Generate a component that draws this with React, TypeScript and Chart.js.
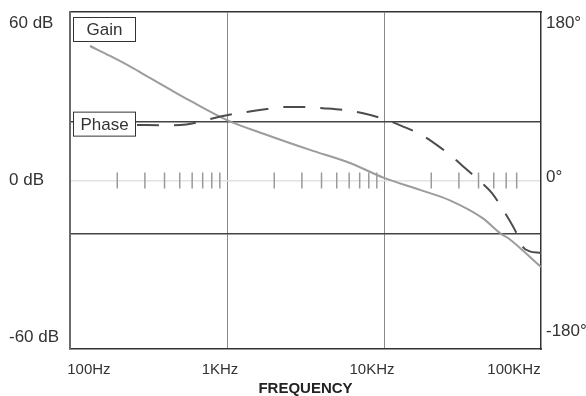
import React, { useEffect, useRef } from "react";
import { Chart, registerables } from "chart.js";

Chart.register(...registerables);

const FONT = '"Liberation Sans", Arial, Helvetica, sans-serif';
const TEXT = "#333333";

const X_MIN = 100;
const X_MAX = 100000;
const X_LABEL_FREQ = [132, 902, 8390, 67300];
const X_LABELS = ["100Hz", "1KHz", "10KHz", "100KHz"];
const X_GRID_FREQ = [1000, 10000];

const GAIN_TICKS = [-60, -20.2, 0, 22.5, 60];
const GAIN_TICK_LABELS = ["-60 dB", "", "0 dB", "", "60 dB"];
const PHASE_TICKS = [-180, 0, 180];
const PHASE_TICK_LABELS = ["-180°", "0°", "180°"];

const MINOR_TICK_FREQ = [
  200, 300, 400, 500, 600, 700, 800, 900,
  2000, 3000, 4000, 5000, 6000, 7000, 8000, 9000,
  20000, 30000, 40000, 50000, 60000, 70000,
];

const GAIN_FREQ = [134, 180, 241, 323, 433, 581, 1000, 1798, 3378, 6069, 10000, 16950, 26300, 42700, 54800, 61660, 100000];
const GAIN_DB = [51.4, 47.6, 43.6, 39.2, 34.8, 30.5, 23.1, 17.4, 11.7, 6.7, 1.0, -3.6, -7.6, -14.5, -20.1, -22.0, -33.1];

const PHASE_FREQ = [267, 400, 550, 779, 1015, 1320, 1798, 2274, 3235, 4085, 5645, 7247, 10000, 13030, 16950, 21760, 28340, 32820, 42100, 48730, 59000, 68260, 76800, 84000, 100000];
const PHASE_DEG = [61, 60.5, 61.5, 67.8, 72.5, 76, 79.5, 81.8, 81.8, 80.6, 78.3, 74.8, 67.8, 59.6, 50.3, 37.4, 21, 10.5, -7, -18.7, -42, -62, -81.8, -86.5, -88.8];

const labelBoxes = {
  id: "labelBoxes",
  afterDatasetsDraw(chart: any) {
    const { ctx, chartArea, scales } = chart;
    const drawBox = (text: string, top: number) => {
      const left = chartArea.left + 3;
      const w = 63;
      const h = 25;
      ctx.save();
      ctx.fillStyle = "#ffffff";
      ctx.fillRect(left, top, w, h);
      ctx.strokeStyle = "#333333";
      ctx.lineWidth = 1;
      ctx.strokeRect(left + 0.5, top + 0.5, w - 1, h - 1);
      ctx.fillStyle = TEXT;
      ctx.font = `17px ${FONT}`;
      ctx.textAlign = "center";
      ctx.textBaseline = "middle";
      ctx.fillText(text, left + w / 2, top + h / 2 + 1);
      ctx.restore();
    };
    drawBox("Gain", chartArea.top + 5);
    drawBox("Phase", scales.y.getPixelForValue(GAIN_TICKS[3]) - 10);
  },
};

const noPad = (s: any) => {
  s.paddingTop = 0;
  s.paddingBottom = 0;
  s.paddingLeft = 0;
  s.paddingRight = 0;
};

export default function App() {
  const ref = useRef<HTMLCanvasElement | null>(null);

  useEffect(() => {
    if (!ref.current) return;
    const chart = new Chart(ref.current, {
      type: "line",
      data: {
        datasets: [
          {
            label: "Phase",
            data: PHASE_FREQ.map((f, i) => ({ x: f, y: PHASE_DEG[i] })),
            yAxisID: "y1",
            xAxisID: "x",
            borderColor: "#4c4c4c",
            borderWidth: 2,
            borderDash: [22, 15],
            pointRadius: 0,
            cubicInterpolationMode: "monotone",
            fill: false,
          },
          {
            label: "Gain",
            data: GAIN_FREQ.map((f, i) => ({ x: f, y: GAIN_DB[i] })),
            yAxisID: "y",
            xAxisID: "x",
            borderColor: "#9c9c9c",
            borderWidth: 2,
            pointRadius: 0,
            cubicInterpolationMode: "monotone",
            fill: false,
          },
          {
            label: "ticks",
            data: MINOR_TICK_FREQ.map((f) => ({ x: f, y: 0 })),
            yAxisID: "y",
            xAxisID: "x",
            showLine: false,
            pointStyle: "line",
            rotation: 90,
            pointRadius: 8,
            pointHoverRadius: 8,
            pointBorderColor: "#9a9a9a",
            pointBorderWidth: 1.5,
            borderColor: "#9a9a9a",
          },
        ],
      },
      options: {
        animation: false,
        responsive: false,
        devicePixelRatio: 1,
        layout: { padding: { left: 9, right: 0, top: 0, bottom: 0 } },
        plugins: {
          legend: { display: false },
          tooltip: { enabled: false },
        },
        scales: {
          x: {
            type: "logarithmic",
            position: "bottom",
            min: X_MIN,
            max: X_MAX,
            afterBuildTicks: (s: any) => {
              s.ticks = X_LABEL_FREQ.map((v) => ({ value: v }));
            },
            afterFit: (s: any) => {
              s.height = 47;
              noPad(s);
            },
            grid: { display: false, drawTicks: false },
            border: { display: true, color: "#333333", width: 1.5 },
            ticks: {
              autoSkip: false,
              maxRotation: 0,
              padding: 12,
              color: TEXT,
              font: { family: FONT, size: 15 },
              callback: (_v: any, i: number) => X_LABELS[i],
            },
            title: {
              display: true,
              text: "FREQUENCY",
              color: "#222222",
              font: { family: FONT, size: 15, weight: "bold" },
              padding: { top: 0, bottom: -2 },
            },
          },
          xTop: {
            type: "logarithmic",
            position: "top",
            min: X_MIN,
            max: X_MAX,
            afterBuildTicks: (s: any) => {
              s.ticks = X_GRID_FREQ.map((v) => ({ value: v }));
            },
            afterFit: (s: any) => {
              s.height = 12;
              noPad(s);
            },
            grid: { display: true, color: "#8a8a8a", lineWidth: 1, drawTicks: false },
            border: { display: true, color: "#333333", width: 1.5 },
            ticks: { display: false },
          },
          y: {
            type: "linear",
            position: "left",
            min: -64.4,
            max: 64.4,
            afterBuildTicks: (s: any) => {
              s.ticks = GAIN_TICKS.map((v) => ({ value: v }));
            },
            afterFit: (s: any) => {
              s.width = 61;
              noPad(s);
            },
            grid: {
              drawTicks: false,
              color: (c: any) => {
                const v = c.tick ? c.tick.value : null;
                if (v === 0) return "#e2e2e2";
                if (v === GAIN_TICKS[1] || v === GAIN_TICKS[3]) return "#444444";
                return "rgba(0,0,0,0)";
              },
              lineWidth: 1.5,
            },
            border: { display: true, color: "#6a6a6a", width: 2 },
            ticks: {
              crossAlign: "far",
              autoSkip: false,
              color: TEXT,
              font: { family: FONT, size: 17 },
              callback: (_v: any, i: number) => GAIN_TICK_LABELS[i],
            },
          },
          y1: {
            type: "linear",
            position: "right",
            min: -201,
            max: 193,
            afterBuildTicks: (s: any) => {
              s.ticks = PHASE_TICKS.map((v) => ({ value: v }));
            },
            afterFit: (s: any) => {
              s.width = 45;
              noPad(s);
            },
            grid: { display: false, drawTicks: false },
            border: { display: true, color: "#333333", width: 1.5 },
            ticks: {
              padding: 5,
              autoSkip: false,
              color: TEXT,
              font: { family: FONT, size: 17 },
              callback: (_v: any, i: number) => PHASE_TICK_LABELS[i],
            },
          },
        },
      } as any,
      plugins: [labelBoxes],
    });
    return () => chart.destroy();
  }, []);

  return (
    <div style={{ position: "absolute", left: 0, top: 0, width: 586, height: 396, background: "#ffffff" }}>
      <canvas ref={ref} width={586} height={396} style={{ display: "block", width: 586, height: 396 }} />
    </div>
  );
}
